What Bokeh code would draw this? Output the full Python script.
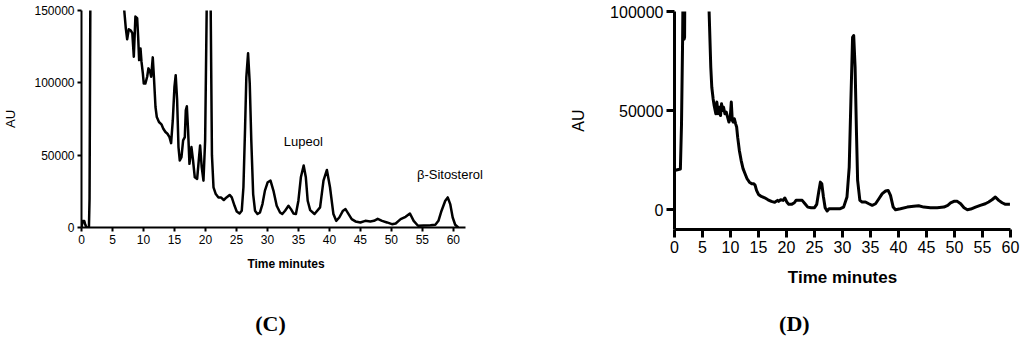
from bokeh.plotting import figure
from bokeh.layouts import row, column
from bokeh.models import FixedTicker, BasicTickFormatter, Label, Range1d
from bokeh.core.properties import value
from bokeh.embed import file_html
from bokeh.resources import INLINE

# ---------------- data ----------------
x_ticks = [0, 5, 10, 15, 20, 25, 30, 35, 40, 45, 50, 55, 60]
y_ticks_c = [0, 50000, 100000, 150000]
y_ticks_d = [0, 50000, 100000]

time_c = [0.0, 0.1, 0.2, 0.45, 0.6, 0.8, 1.2, 1.3, 1.45, 1.6, 6.5, 6.9, 7.15, 7.37, 7.63, 7.96, 8.2, 8.44,
          8.7, 8.98, 9.14, 9.3, 9.52, 9.68, 9.9, 10.05, 10.3, 10.6, 10.8, 11.07, 11.24, 11.5, 11.7, 11.94,
          12.15, 12.5, 12.9, 13.2, 13.55, 13.87, 14.2, 14.46, 14.73, 15.0, 15.2, 15.43, 15.65, 15.86,
          16.13, 16.4, 16.67, 16.83, 17.0, 17.2, 17.42, 17.74, 18.0, 18.28, 18.66, 18.92, 19.14, 19.4,
          19.68, 19.95, 20.2, 20.5, 20.85, 21.05, 21.3, 21.67, 22.1, 22.5, 22.96, 23.4, 23.9, 24.25,
          24.7, 25.05, 25.5, 25.86, 26.13, 26.4, 26.6, 26.88, 27.15, 27.4, 27.7, 28.0, 28.4, 28.8, 29.2,
          29.6, 30.05, 30.5, 30.97, 31.5, 32.04, 32.4, 32.85, 33.4, 33.8, 34.2, 34.6, 35.0, 35.4, 35.85,
          36.2, 36.5, 36.9, 37.6, 38.5, 39.05, 39.6, 40.1, 40.65, 41.1, 41.6, 42.2, 42.6, 43.1, 43.6,
          44.2, 45.0, 45.8, 46.6, 47.2, 47.8, 48.5, 49.3, 50.1, 50.7, 51.5, 52.3, 53.0, 53.6, 54.3, 55.2,
          56.3, 57.1, 57.6, 58.1, 58.7, 59.1, 59.5, 59.9, 60.3, 60.8]
au_c = [0, 2500, 4500, 4500, 2000, 0, 0, 20000, 180000, 600000, 300000, 150000, 137700, 130100, 137000,
        136100, 134300, 118000, 145800, 144700, 132000, 115700, 123800, 114600, 106500, 99500, 99500,
        104200, 110000, 107600, 104200, 117600, 103000, 83300, 76400, 72900, 71300, 68300, 66000, 64800,
        62500, 58300, 74000, 97200, 105300, 88000, 55600, 46300, 48600, 60200, 62500, 81000, 83800,
        67100, 44000, 55600, 46300, 34700, 33600, 46300, 56700, 41700, 32400, 60000, 150000, 400000,
        150000, 50000, 27800, 23100, 20800, 20800, 19000, 20800, 22500, 20800, 15000, 11100, 9700,
        11600, 27800, 69400, 104000, 120400, 99500, 60200, 23100, 11600, 9300, 10400, 16200, 25500,
        31300, 32400, 25500, 15000, 10400, 9300, 11600, 15000, 12700, 9700, 9300, 18500, 34700, 42800,
        34700, 18500, 12000, 9300, 13900, 32400, 39800, 27800, 9300, 4600, 6900, 11600, 12700, 9300,
        5800, 4200, 3500, 4600, 4200, 4600, 6000, 4600, 3500, 2300, 2800, 5800, 7400, 9700, 4600, 1200,
        1400, 1600, 1900, 4600, 11600, 18500, 20800, 16200, 6900, 1900, 0]

time_d = [0.0, 1.05, 1.25, 1.45, 1.58, 1.65, 1.72, 1.8, 1.9, 2.2, 5.8, 6.18, 6.3, 6.48, 6.66, 6.9, 7.08,
          7.38, 7.56, 7.8, 8.04, 8.22, 8.4, 8.58, 8.76, 9.0, 9.24, 9.48, 9.72, 9.96, 10.14, 10.32, 10.5,
          10.68, 10.92, 11.1, 11.28, 11.58, 11.9, 12.24, 12.6, 12.96, 13.38, 13.8, 14.16, 14.4, 14.65,
          15.0, 15.5, 16.1, 16.7, 17.3, 17.9, 18.4, 18.6, 18.97, 19.4, 19.7, 20.05, 20.4, 20.9, 21.4,
          21.7, 22.2, 22.8, 23.3, 23.8, 24.4, 25.0, 25.4, 25.75, 26.05, 26.3, 26.6, 26.9, 27.25, 27.6,
          28.7, 29.6, 30.2, 30.8, 31.2, 31.5, 31.8, 32.0, 32.25, 32.5, 32.7, 33.1, 33.5, 34.1, 34.7,
          35.3, 35.9, 36.5, 37.1, 37.7, 38.15, 38.57, 39.05, 39.46, 40.35, 41.55, 42.7, 43.6, 44.5,
          45.7, 46.9, 48.1, 48.8, 49.3, 49.9, 50.5, 51.1, 51.7, 52.3, 52.9, 53.75, 54.6, 55.5, 56.1,
          56.7, 57.3, 57.9, 58.5, 59.1, 59.9]
au_d = [19800, 20500, 43000, 86000, 130000, 110000, 86000, 87000, 140000, 400000, 400000, 100000, 88700,
        71900, 61800, 55900, 52600, 48400, 54300, 48400, 51700, 47500, 53400, 50100, 51700, 48400,
        49200, 46700, 44200, 46700, 54300, 45000, 44200, 45900, 43300, 41700, 36600, 29900, 24900,
        20700, 18100, 15600, 13900, 13100, 13100, 12300, 9700, 7700, 6700, 6000, 5000, 4200, 3700,
        4700, 4200, 5000, 4700, 5900, 3900, 2700, 2700, 3500, 4700, 4700, 4700, 3000, 1300, 1000, 1000,
        2700, 8900, 13900, 13100, 6400, 1000, -700, 500, 500, 500, 1300, 6400, 21500, 55100, 87000,
        87900, 71900, 38300, 14800, 4700, 3900, 3900, 3000, 2200, 3000, 5500, 8100, 9400, 9700, 7200,
        1300, 0, 500, 1300, 1700, 2000, 1300, 1000, 1000, 1300, 2200, 3400, 4200, 4200, 3000, 1000, 0,
        300, 1300, 2200, 3000, 3900, 5000, 6400, 4700, 3500, 2700, 2700]

peak_names = ["Lupeol", "β-Sitosterol"]
peak_label_x = [35.8, 59.45]
peak_label_y = [59400, 36600]

caption_text = ["(C)", "(D)"]
caption_x = [30.5, 21.4]

FONT = "Liberation Sans"
SERIF = "Liberation Serif"


def style(p, tick_size, label_size, au_size, line_w, tick_out, label_standoff, ylabel_standoff):
    p.xgrid.visible = False
    p.ygrid.visible = False
    p.outline_line_color = None
    p.background_fill_color = "white"
    p.border_fill_color = "white"
    for ax in (p.xaxis[0], p.yaxis[0]):
        ax.axis_line_width = line_w
        ax.axis_line_color = "black"
        ax.major_tick_line_width = line_w
        ax.major_tick_line_color = "black"
        ax.major_tick_out = tick_out
        ax.major_tick_in = 0
        ax.minor_tick_line_color = None
        ax.major_label_text_font = FONT
        ax.major_label_text_font_size = f"{tick_size}px"
        ax.major_label_text_color = "black"
        ax.major_label_standoff = 3
        ax.axis_label_text_color = "black"
        ax.axis_label_text_font = FONT
    p.xaxis[0].axis_label_text_font_style = "bold"
    p.xaxis[0].axis_label_text_font_size = f"{label_size}px"
    p.xaxis[0].axis_label_standoff = label_standoff
    p.yaxis[0].axis_label_text_font_style = "normal"
    p.yaxis[0].axis_label_text_font_size = f"{au_size}px"
    p.yaxis[0].axis_label_standoff = ylabel_standoff
    p.yaxis[0].formatter = BasicTickFormatter(use_scientific=False)


def caption_fig(width, height, x_range, left, right, text, x, y):
    c = figure(width=width, height=height, output_backend="svg", toolbar_location=None,
               x_range=x_range, y_range=Range1d(0, 1),
               min_border_left=left, min_border_right=right, min_border_top=0, min_border_bottom=0)
    c.xaxis.visible = False
    c.yaxis.visible = False
    c.xgrid.visible = False
    c.ygrid.visible = False
    c.outline_line_color = None
    c.text(x=[x], y=[y], text=[text], text_font=value(SERIF), text_font_size="22px",
           text_font_style="bold", text_align="center", text_baseline="middle", text_color="black")
    return c


# ---------------- panel C ----------------
xr_c = Range1d(0, 66)
pC = figure(width=508, height=289, output_backend="svg", toolbar_location=None,
            x_range=xr_c, y_range=Range1d(0, 150000),
            min_border_left=81, min_border_right=18, min_border_top=10, min_border_bottom=62,
            x_axis_label="Time minutes", y_axis_label="AU")
style(pC, 12, 12, 13, 2, 4, 10, 13)
pC.xaxis.ticker = FixedTicker(ticks=x_ticks)
pC.xaxis.bounds = (0, 62)
pC.yaxis.ticker = FixedTicker(ticks=y_ticks_c)
pC.line(time_c, au_c, line_color="black", line_width=2.5, line_join="round")
for name, lx, ly in zip(peak_names, peak_label_x, peak_label_y):
    pC.add_layout(Label(x=lx, y=ly, text=name, text_font=FONT, text_font_size="13px",
                        text_align="center", text_baseline="middle", text_color="black"))
capC = caption_fig(508, 51, xr_c, 81, 18, caption_text[0], caption_x[0], 0.333)

# ---------------- panel D ----------------
xr_d = Range1d(0, 60)
pD = figure(width=512, height=301, output_backend="svg", toolbar_location=None,
            x_range=xr_d, y_range=Range1d(-10000, 100000),
            min_border_left=166, min_border_right=10, min_border_top=11, min_border_bottom=72,
            x_axis_label="Time minutes", y_axis_label="AU")
style(pD, 16, 17, 16, 3, 8, 12, 20)
pD.xaxis.ticker = FixedTicker(ticks=x_ticks)
pD.yaxis.ticker = FixedTicker(ticks=y_ticks_d)
pD.line(time_d, au_d, line_color="black", line_width=3, line_join="round")
capD = caption_fig(512, 39, xr_d, 166, 10, caption_text[1], caption_x[1], 0.436)

layout = row(column(pC, capC, spacing=0), column(pD, capD, spacing=0), spacing=0)
open("out.html", "w").write(file_html(layout, INLINE))
